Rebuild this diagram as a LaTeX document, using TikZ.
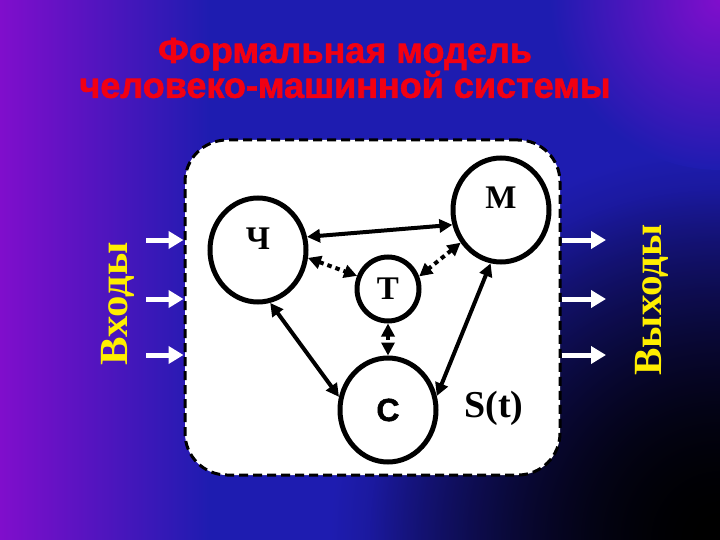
\documentclass[tikz,border=0pt]{standalone}
\usepackage{fontspec}
\setmainfont{Liberation Serif}
\newfontfamily\titlefont{Liberation Sans}[BoldFeatures={FakeBold=1.6}]
\usepackage{tikz}
\usetikzlibrary{arrows.meta,shapes.geometric,fadings}
\definecolor{bgblue}{RGB}{30,28,176}
\definecolor{bgpurple}{RGB}{128,14,204}
\definecolor{titlered}{RGB}{242,0,18}
\definecolor{sideyellow}{RGB}{255,238,0}
\tikzfading[name=cornerfade, inner color=transparent!0, outer color=transparent!100]

\begin{document}
\begin{tikzpicture}[x=1pt, y=-1pt,
        main/.style = {draw, ellipse, line width=5pt, minimum width=96pt, minimum height=104pt, inner sep=0pt, font=\bfseries\fontsize{33}{33}\selectfont},
        raised/.style = {text height=20pt, text depth=22pt},
        link/.style = {{Triangle[length=13pt,width=13pt]}-{Triangle[length=13pt,width=13pt]}, line width=4pt},
        dots/.style = {link, dash pattern=on 4.5pt off 4pt},
        io/.style = {-{Triangle[length=15pt,width=17pt]}, line width=5pt, white},
        sidetext/.style = {rotate=90, text=sideyellow, font=\bfseries\fontsize{40}{40}\selectfont}]
        \begin{scope}
        \clip (0,0) rectangle (720,540);
        \fill[bgblue] (0,0) rectangle (720,540);
        \shade[inner color=black, outer color=bgblue] (720,540) circle (390pt);
        \fill[black, path fading=cornerfade] (720,540) circle (350pt);
        \shade[left color=bgpurple, right color=bgblue] (0,0) rectangle (210,540);
        \shade[inner color=bgpurple, outer color=bgblue] (720,0) circle (170pt);
        \end{scope}
        \useasboundingbox (0,0) rectangle (720,540);
        \node[text=titlered, align=center, font=\titlefont\bfseries\fontsize{36}{35}\selectfont] (title) at (345,68) {Формальная модель\\человеко-машинной системы};
        \node[draw, fill=white, rounded corners=42pt, line width=3pt, dash pattern=on 9pt off 5pt, minimum width=375pt, minimum height=335pt] (sys) at (372.5,307.5) {};
        \node[main, raised] (ch) at (258,250) {Ч};
        \node[main, raised] (m) at (501,210) {М};
        \node[main, minimum width=62pt, minimum height=64pt] (t) at (388,289) {Т};
        \node[main, font=\titlefont\bfseries\fontsize{32}{32}\selectfont] (c) at (388,410) {С};
        \node[font=\bfseries\fontsize{38}{38}\selectfont] (st) at (494,408) {S(t)};
        \draw[link] (ch.15) -- (m.197);
        \draw[link] (ch.283) -- (c.165);
        \draw[link] (m.259) -- (c.16);
        \draw[dots] (ch.351) -- (t.157);
        \draw[dots] (m.219) -- (t.22);
        \draw[dots] (t.south) -- (c.north);
        \foreach \y [count=\i] in {240,299,355} {
            \coordinate (in\i) at (146,\y);
            \coordinate (out\i) at (606,\y);
            \draw[io] (in\i) -- (in\i -| sys.west);
            \draw[io] (sys.east |- out\i) -- (out\i);
        }
        \node[sidetext] (inputs) at (118,304) {\scalebox{1.07}[1]{Входы}};
        \node[sidetext] (outputs) at (652,300) {\scalebox{1.03}[1]{Выходы}};
\end{tikzpicture}
\end{document}
